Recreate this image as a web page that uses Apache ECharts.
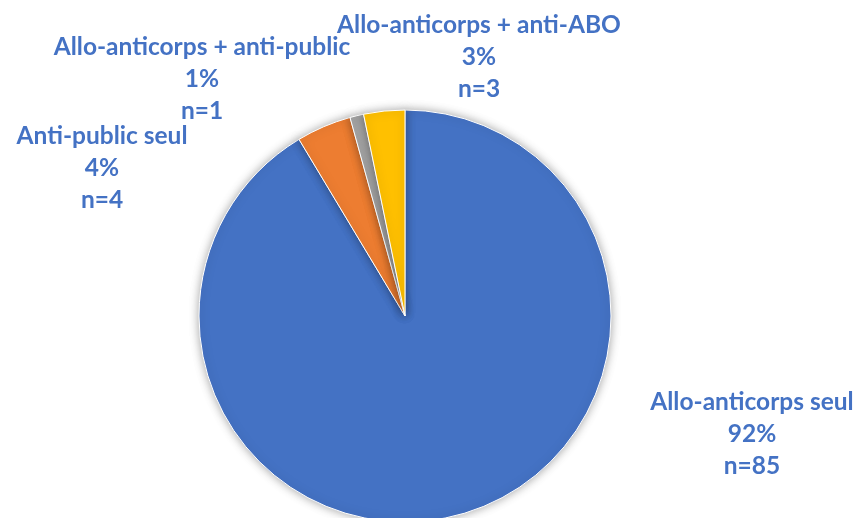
<!DOCTYPE html>
<html><head><meta charset="utf-8">
<script src="https://cdn.jsdelivr.net/npm/echarts@6/dist/echarts.min.js"></script>
<style>html,body{margin:0;padding:0;background:#fff}#c{width:857px;height:518px}</style>
</head><body><div id="c"></div>
<script>
const categories = ["Allo-anticorps seul", "Anti-public seul", "Allo-anticorps + anti-public", "Allo-anticorps + anti-ABO"];
const counts = [85, 4, 1, 3];
const pctLabels = ["92%", "4%", "1%", "3%"];
const colors = ["#4472C4", "#ED7D31", "#A5A5A5", "#FFC000"];

// label block centres (layout)
const labelPos = [[752, 434], [102, 168], [202, 79], [479, 57]];

const chart = echarts.init(document.getElementById('c'), null, {renderer: 'canvas'});
chart.setOption({
  animation: false,
  backgroundColor: '#fff',
  series: [{
    type: 'pie',
    center: [405, 316],
    radius: [0, 206],
    startAngle: 90,
    clockwise: true,
    data: categories.map((n, i) => ({name: n, value: counts[i], itemStyle: {color: colors[i]}})),
    itemStyle: {borderColor: '#fff', borderWidth: 1, shadowBlur: 10, shadowColor: 'rgba(0,0,0,0.35)'},
    label: {
      show: true,
      color: '#4472C4',
      fontFamily: 'Lato',
      fontWeight: 'bold',
      fontSize: 24.5,
      lineHeight: 32,
      align: 'center',
      overflow: 'none',
      edgeDistance: 0,
      formatter: p => p.name + '\n' + pctLabels[p.dataIndex] + '\nn=' + p.value
    },
    labelLine: {show: false},
    labelLayout: function (params) {
      const pos = labelPos[params.dataIndex];
      return {x: pos[0], y: pos[1], align: 'center', verticalAlign: 'middle', hideOverlap: false};
    },
    emphasis: {disabled: true}
  }]
});
</script>
</body></html>
